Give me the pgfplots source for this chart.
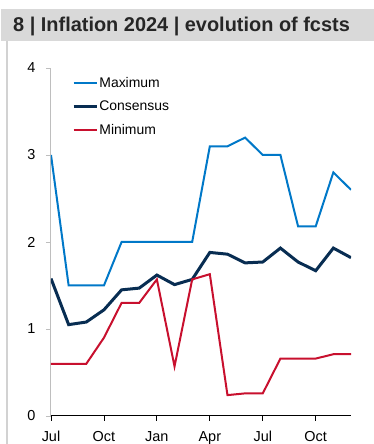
\documentclass[border=0pt]{standalone}
\usepackage{pgfplots}
\pgfplotsset{compat=1.18}
\usepackage{fontspec}
\setmainfont{Liberation Sans}
\definecolor{cmax}{RGB}{0,120,200}
\definecolor{ccons}{RGB}{8,45,82}
\definecolor{cmin}{RGB}{200,16,46}
\definecolor{band}{RGB}{217,217,217}
\definecolor{frame}{RGB}{210,210,210}
\definecolor{yax}{RGB}{190,190,190}
\begin{document}
\begin{tikzpicture}
\useasboundingbox (0,0) rectangle (374bp,444bp);
\fill[band] (1bp,403bp) rectangle (374bp,435bp);
\draw[frame, line width=2bp] (7bp,403bp) -- (7bp,0);
\node[anchor=base west, inner sep=0, font=\fontsize{20}{22}\selectfont\bfseries, text=black!85] at (13bp,412.5bp) {8 | Inflation 2024 | evolution of fcsts};
\begin{axis}[
  at={(51bp,28bp)}, anchor=south west,
  width=300bp, height=348bp, scale only axis,
  xmin=0, xmax=17, ymin=0, ymax=4,
  axis x line*=bottom, axis y line*=left,
  x axis line style={-, black, line width=1bp},
  y axis line style={-, yax, line width=1bp},
  xtick={0,3,6,9,12,15},
  xticklabels={Jul,Oct,Jan,Apr,Jul,Oct},
  ytick={0,1,2,3,4},
  tick align=outside,
  major tick length=5bp,
  x tick style={black, line width=0.8bp},
  y tick style={yax, line width=0.8bp},
  tick label style={font=\fontsize{14.5}{16}\selectfont},
  xticklabel style={yshift=-7bp},
  yticklabel style={xshift=-7bp},
  /pgf/number format/assume math mode=true,
  legend cell align=left,
  legend image code/.code={\draw[#1] (0bp,0bp) -- (23bp,0bp);},
  legend style={at={(0.07,0.978)}, anchor=north west, draw=none, fill=none,
    font=\fontsize{14}{16}\selectfont, row sep=10bp, inner sep=0pt,
    nodes={inner sep=1.2bp}},
]
\addplot[cmax, line width=2bp] coordinates {
(0,3.0) (1,1.5) (2,1.5) (3,1.5) (4,2.0) (5,2.0) (6,2.0) (7,2.0) (8,2.0)
(9,3.1) (10,3.1) (11,3.2) (12,3.0) (13,3.0) (14,2.18) (15,2.18) (16,2.8) (17,2.6)};
\addlegendentry{Maximum}
\addplot[ccons, line width=3bp] coordinates {
(0,1.58) (1,1.05) (2,1.08) (3,1.22) (4,1.45) (5,1.47) (6,1.62) (7,1.51) (8,1.57)
(9,1.88) (10,1.86) (11,1.76) (12,1.77) (13,1.93) (14,1.77) (15,1.67) (16,1.93) (17,1.82)};
\addlegendentry{Consensus}
\addplot[cmin, line width=2bp] coordinates {
(0,0.6) (1,0.6) (2,0.6) (3,0.9) (4,1.3) (5,1.3) (6,1.57) (7,0.57) (8,1.57)
(9,1.63) (10,0.24) (11,0.26) (12,0.26) (13,0.66) (14,0.66) (15,0.66) (16,0.71) (17,0.71)};
\addlegendentry{Minimum}
\end{axis}
\end{tikzpicture}
\end{document}
